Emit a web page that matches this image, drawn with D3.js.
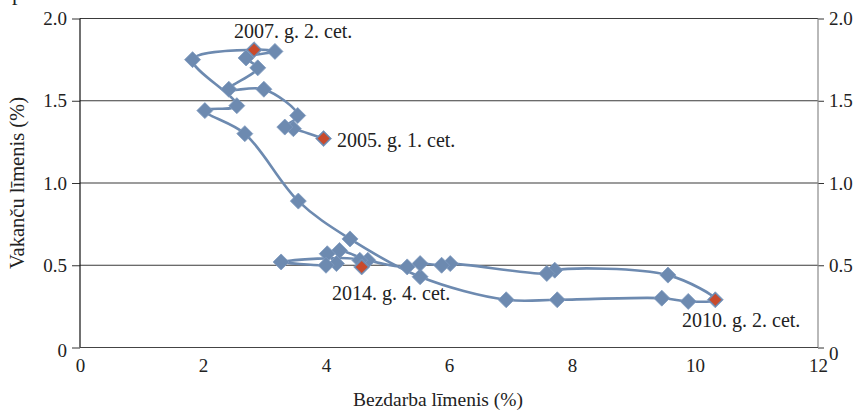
<!DOCTYPE html>
<html>
<head>
<meta charset="utf-8">
<script src="https://cdn.jsdelivr.net/npm/d3@7"></script>
<style>
  body { margin: 0; background: #fff; }
  svg { display: block; font-family: "Liberation Serif", "Times New Roman", serif; }
  .axis path { display: none; }
  .axis line { stroke: #333; }
  .label { font-size: 20px; fill: #222; }
  .title { font-size: 19.5px; fill: #222; }
</style>
</head>
<body>
<svg width="861" height="410"></svg>
<script>
// quarters from 2005 Q1 to 2014 Q4
const unemployment = [3.96, 3.47, 3.33, 3.54, 2.99, 2.42, 2.89, 2.70, 3.17, 2.83,
  1.83, 2.55, 2.03, 2.68, 3.55, 4.39, 5.53, 6.93, 7.76, 9.46,
  9.89, 10.33, 9.56, 7.72, 7.59, 6.02, 5.88, 5.53, 5.32, 4.68,
  4.22, 4.02, 4.17, 4.00, 3.27, 4.55, 4.58]
const vacancies = [1.27, 1.33, 1.34, 1.41, 1.57, 1.57, 1.70, 1.76, 1.80, 1.81,
  1.75, 1.47, 1.44, 1.30, 0.89, 0.66, 0.43, 0.29, 0.29, 0.30,
  0.28, 0.29, 0.44, 0.47, 0.45, 0.51, 0.50, 0.51, 0.49, 0.53,
  0.59, 0.57, 0.51, 0.50, 0.52, 0.53, 0.49]
// marked quarters: index into the series and their label
const markedIndex = [0, 9, 21, 36]
const markedLabel = ["2005. g. 1. cet.", "2007. g. 2. cet.", "2010. g. 2. cet.", "2014. g. 4. cet."]
const xTicks = [0, 2, 4, 6, 8, 10, 12]
const yTicks = [0, 0.5, 1.0, 1.5, 2.0]

const points = unemployment.map((u, i) => ({ x: u, y: vacancies[i], i: i }))

const svg = d3.select("svg")

const x = d3.scaleLinear().domain([0, 12]).range([80, 818])
const y = d3.scaleLinear().domain([0, 2]).range([347.5, 18.5])

const fmt = d => d === 0 ? "0" : d3.format(".1f")(d)

// gridlines
svg.append("g")
  .selectAll("line")
  .data(yTicks.filter(d => d > 0))
  .enter()
  .append("line")
  .attr("x1", x(0))
  .attr("x2", x(12))
  .attr("y1", d => y(d))
  .attr("y2", d => y(d))
  .style("stroke", "#3a3a3a")
  .style("stroke-width", 1.2)

// left and right axes
const left = svg.append("g")
  .attr("class", "axis")
  .attr("transform", `translate(${x(0)},0)`)
  .call(d3.axisLeft(y).tickValues(yTicks).tickSize(8).tickPadding(5).tickFormat(fmt))

const right = svg.append("g")
  .attr("class", "axis")
  .attr("transform", `translate(${x(12)},0)`)
  .call(d3.axisRight(y).tickValues(yTicks).tickSize(6).tickPadding(5).tickFormat(fmt))

right.selectAll("text").attr("dy", d => d === 0 ? "0.65em" : "0.32em")
left.selectAll("text").attr("dy", d => d === 0 ? "0.45em" : "0.32em")

const bottom = svg.append("g")
  .attr("class", "axis")
  .attr("transform", `translate(0,${y(0)})`)
  .call(d3.axisBottom(x).tickValues(xTicks).tickSize(0).tickPadding(11))

// d3 puts sans-serif 10px on the axis groups, use the serif face instead
svg.selectAll(".axis")
  .attr("font-family", "Liberation Serif, Times New Roman, serif")
  .attr("font-size", 19)
svg.selectAll(".axis text")
  .style("font-family", "'Liberation Serif', 'Times New Roman', serif")
  .style("font-size", "19px")
  .style("fill", "#222")

// axis lines
svg.append("line")
  .attr("x1", x(0)).attr("x2", x(0))
  .attr("y1", y(2)).attr("y2", y(0))
  .style("stroke", "#111").style("stroke-width", 1.2)
svg.append("line")
  .attr("x1", x(12)).attr("x2", x(12))
  .attr("y1", y(2)).attr("y2", y(0))
  .style("stroke", "#8a8a8a").style("stroke-width", 1.2)
svg.append("line")
  .attr("x1", x(0)).attr("x2", x(12))
  .attr("y1", y(0)).attr("y2", y(0))
  .style("stroke", "#444").style("stroke-width", 1.2)

// axis titles
svg.append("text")
  .attr("class", "title")
  .attr("x", 438)
  .attr("y", 406)
  .attr("text-anchor", "middle")
  .text("Bezdarba līmenis (%)")

svg.append("text")
  .attr("class", "title")
  .attr("transform", "translate(24,183) rotate(-90)")
  .attr("text-anchor", "middle")
  .style("font-size", "20.5px")
  .text("Vakanču līmenis (%)")

// clipped glyph at the top left corner
svg.append("text")
  .attr("x", 12)
  .attr("y", 0)
  .style("font-size", "22px")
  .style("fill", "#222")
  .text("p")

// the curve
const lineGenerator = d3.line()
  .x(d => x(d.x))
  .y(d => y(d.y))
  .curve(d3.curveCatmullRom.alpha(0.5))

svg.append("path")
  .datum(points)
  .attr("d", lineGenerator)
  .style("fill", "none")
  .style("stroke", "#6d8ab0")
  .style("stroke-width", 2.6)

const diamond = r => `M0,${-r}L${r},0L0,${r}L${-r},0Z`

svg.append("g")
  .selectAll("path")
  .data(points)
  .enter()
  .append("path")
  .attr("transform", d => `translate(${x(d.x)},${y(d.y)})`)
  .attr("d", diamond(8))
  .style("fill", "#6d8ab0")
  .style("stroke", "#7f9bbf")
  .style("stroke-width", 0.8)

svg.append("g")
  .selectAll("path")
  .data(markedIndex)
  .enter()
  .append("path")
  .attr("transform", d => `translate(${x(points[d].x)},${y(points[d].y)})`)
  .attr("d", diamond(6))
  .style("fill", "#c94a2c")

// labels of the marked quarters
const labelPos = [[337, 147], [234, 38], [682, 327], [332, 300]]

svg.append("g")
  .selectAll("text")
  .data(markedLabel)
  .enter()
  .append("text")
  .attr("class", "label")
  .attr("x", (d, i) => labelPos[i][0])
  .attr("y", (d, i) => labelPos[i][1])
  .text(d => d)
</script>
</body>
</html>
